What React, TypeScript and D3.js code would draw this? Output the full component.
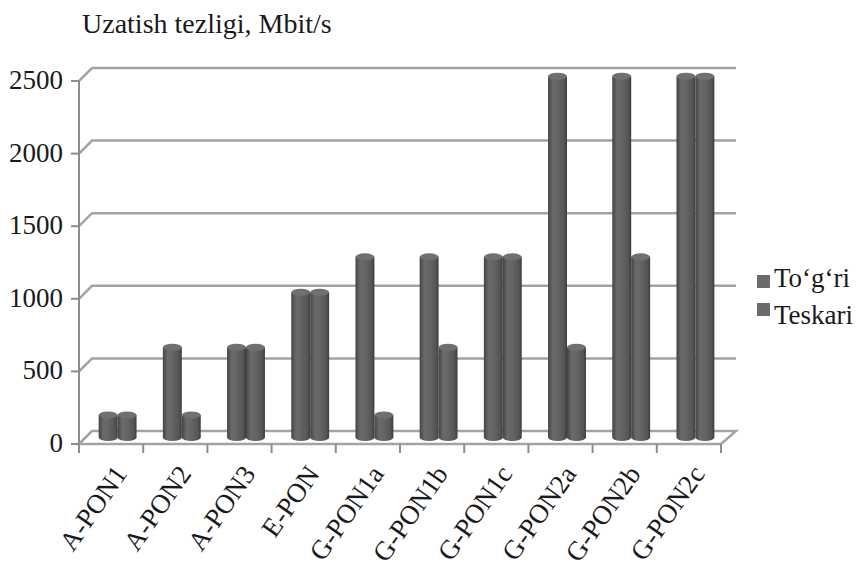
import React from "react";
import * as d3 from "d3";

const categories = ["A-PON1", "A-PON2", "A-PON3", "E-PON", "G-PON1a", "G-PON1b", "G-PON1c", "G-PON2a", "G-PON2b", "G-PON2c"];
const seriesNames = ["To‘g‘ri", "Teskari"];
const togri = [155, 622, 622, 1000, 1244, 1244, 1244, 2488, 2488, 2488];
const teskari = [155, 155, 622, 1000, 155, 622, 1244, 622, 1244, 2488];
const yTicks = [0, 500, 1000, 1500, 2000, 2500];
const title = "Uzatish tezligi, Mbit/s";

const W = 864, H = 569;
const FONT = "Liberation Serif";
const DX = 13, DY = -13;
const L = 79, R = 721, B = 444, T = 81;
const txt: React.CSSProperties = { fontFamily: FONT };

export default function App() {
  const y = d3.scaleLinear().domain([0, 2500]).range([B, T]);
  const x = d3.scaleBand<string>().domain(categories).range([L, R]).padding(0);
  const step = x.step();
  const inner = d3.scaleBand<string>().domain(seriesNames).range([step * 0.205, step * 0.795]).padding(0);
  const bw = inner.bandwidth();
  const series = [togri, teskari];
  const ry = 3.5;
  const hx = DX / 2, hy = DY / 2;
  const gridColor = "#a3a3a3";

  const bars: React.ReactNode[] = [];
  categories.forEach((c, i) => {
    series.forEach((vals, s) => {
      const v = vals[i];
      const bx = (x(c) as number) + (inner(seriesNames[s]) as number) + hx;
      const top = y(v) + hy;
      const bot = y(0) + hy;
      bars.push(
        <g key={c + s}>
          <path
            d={`M${bx},${top} L${bx},${bot} A${bw / 2},${ry} 0 0 0 ${bx + bw},${bot} L${bx + bw},${top} Z`}
            fill="url(#cyl)"
          />
          <ellipse cx={bx + bw / 2} cy={top} rx={bw / 2} ry={ry} fill="#707070" />
        </g>
      );
    });
  });

  return (
    <svg width={W} height={H} style={{ position: "absolute", left: 0, top: 0, background: "#fff" }}>
      <defs>
        <linearGradient id="cyl" x1="0" x2="1" y1="0" y2="0">
          <stop offset="0" stopColor="#444" />
          <stop offset="0.25" stopColor="#6a6a6a" />
          <stop offset="0.5" stopColor="#656565" />
          <stop offset="0.85" stopColor="#555" />
          <stop offset="1" stopColor="#3c3c3c" />
        </linearGradient>
      </defs>
      <text x={82} y={33} fontSize={28} fill="#1a1a1a" style={txt}>{title}</text>
      {yTicks.filter((t) => t > 0).map((t) => (
        <path key={t} d={`M${L},${y(t)} L${L + DX},${y(t) + DY} L${R + DX + 2},${y(t) + DY}`} fill="none" stroke={gridColor} strokeWidth={2.5} />
      ))}
      <path d={`M${L},${B} L${L + DX},${B + DY} L${R + DX + 2},${B + DY} L${R},${B} Z`} fill="none" stroke={gridColor} strokeWidth={2.5} />
      <line x1={L} x2={L} y1={T} y2={B} stroke="#8c8c8c" strokeWidth={2} />
      {yTicks.map((t) => (
        <g key={t}>
          <line x1={L - 8} x2={L} y1={y(t)} y2={y(t)} stroke="#8c8c8c" strokeWidth={2} />
          <text x={63} y={y(t) + 8} fontSize={27} textAnchor="end" fill="#1a1a1a" style={txt}>{t}</text>
        </g>
      ))}
      {d3.range(categories.length + 1).map((i) => (
        <line key={i} x1={L + i * step} x2={L + i * step} y1={B} y2={B + 9} stroke="#8c8c8c" strokeWidth={2} />
      ))}
      {bars}
      {categories.map((c) => {
        const cx = (x(c) as number) + step / 2 + 17;
        return (
          <text key={c} transform={`translate(${cx},${474}) rotate(-55)`} textAnchor="end" fontSize={27} fill="#1a1a1a" style={txt}>{c}</text>
        );
      })}
      {seriesNames.map((n, i) => (
        <g key={n}>
          <rect x={757} y={275 + i * 28} width={13} height={13} fill="#6b6b6b" />
          <text x={774} y={287 + i * 37} fontSize={27} fill="#1a1a1a" style={txt}>{n}</text>
        </g>
      ))}
    </svg>
  );
}
